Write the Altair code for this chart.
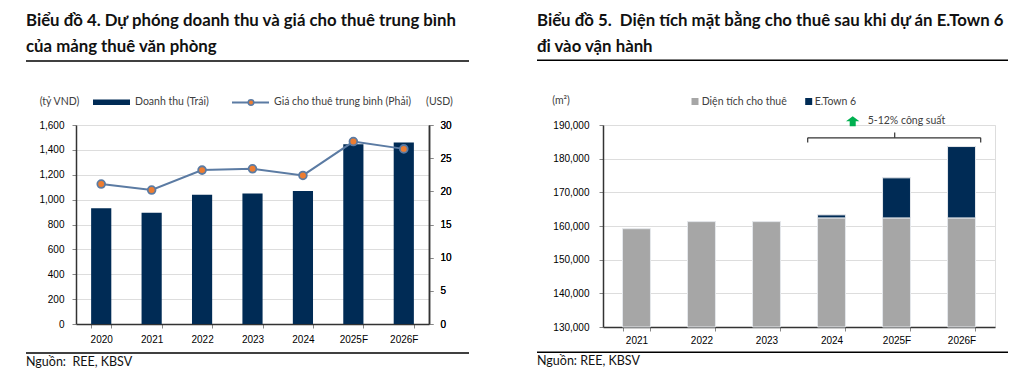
import altair as alt
import pandas as pd

# ---------------- data ----------------
years_l = ["2020", "2021", "2022", "2023", "2024", "2025F", "2026F"]
revenue = [930, 895, 1040, 1050, 1070, 1445, 1460]          # tỷ VND (left axis)
rent_price = [21.1, 20.2, 23.2, 23.4, 22.4, 27.5, 26.4]      # USD (right axis)

years_r = ["2021", "2022", "2023", "2024", "2025F", "2026F"]
area_rent = [159200, 161300, 161300, 162400, 162400, 162400]  # m2
etown6 = [0, 0, 0, 900, 11900, 21200]                          # m2

left_ticks = [0, 200, 400, 600, 800, 1000, 1200, 1400, 1600]
right_ticks = [0, 5, 10, 15, 20, 25, 30]
area_ticks = [130000, 140000, 150000, 160000, 170000, 180000, 190000]

# ---------------- style ----------------
NAVY = "#002B55"
STEEL = "#5B7BA3"
ORANGE = "#ED7D31"
GREY = "#A6A6A6"
GREEN = "#00B050"
FONT = "Lato"
TXT = "#404040"
NB = "\u00a0"

df_l = pd.DataFrame({"year": years_l, "revenue": revenue, "price": rent_price})
df_r = pd.DataFrame({"year": years_r, "area": area_rent, "etown": etown6})
df_r["top"] = df_r["area"] + df_r["etown"]
df_r["base"] = area_ticks[0]
one = pd.DataFrame({"k": [0]})


def txt(s, x, y, align="left", size=10.5, color=TXT, weight="normal"):
    return alt.Chart(one).mark_text(text=s, align=align, baseline="middle", font=FONT,
                                    fontSize=size, color=color, fontWeight=weight).encode(
        x=alt.value(x), y=alt.value(y))


def hline(x1, x2, y, color="#000000", w=1.5):
    return alt.Chart(one).mark_rect(color=color, opacity=1).encode(
        x=alt.value(x1), x2=alt.value(x2), y=alt.value(y - w / 2), y2=alt.value(y + w / 2))


def vline(x, y1, y2, color="#000000", w=1.2):
    return alt.Chart(one).mark_rect(color=color, opacity=1).encode(
        x=alt.value(x - w / 2), x2=alt.value(x + w / 2), y=alt.value(y1), y2=alt.value(y2))


def title(lines):
    return alt.TitleParams(text=lines, anchor="start", frame="bounds", font=FONT, fontSize=16.8,
                           fontWeight="bold", color="#111111", lineHeight=26, offset=4)


AX = dict(tickSize=4, domainWidth=1.5, domainColor="#333333", labelOverlap=False)

# ---------------- left chart ----------------
WL, HL = 353, 199
xl = alt.X("year:N", sort=years_l, title=None,
           scale=alt.Scale(paddingInner=0.6, paddingOuter=0.3),
           axis=alt.Axis(labelAngle=0, tickBand="extent", labelPadding=6, **AX))

bars_l = alt.Chart(df_l).mark_bar(color=NAVY).encode(
    x=xl,
    y=alt.Y("revenue:Q", title=None, scale=alt.Scale(domain=[0, 1600]),
            axis=alt.Axis(values=left_ticks, format=",.0f", labelPadding=8, **AX)))

yp_axis = alt.Axis(orient="right", values=right_ticks, format=".0f", labelPadding=7, **AX)
line_l = alt.Chart(df_l).mark_line(color=STEEL, strokeWidth=2).encode(
    x=alt.X("year:N", sort=years_l),
    y=alt.Y("price:Q", title=None, scale=alt.Scale(domain=[0, 30]), axis=yp_axis))
pts_l = alt.Chart(df_l).mark_circle(color=ORANGE, opacity=1, stroke=STEEL, strokeWidth=1.8,
                                    size=60).encode(
    x=alt.X("year:N", sort=years_l),
    y=alt.Y("price:Q", title=None, scale=alt.Scale(domain=[0, 30]), axis=yp_axis))

leg_l = [
    txt("(tỷ VND)", -16.5, -23, align="center"),
    alt.Chart(one).mark_rect(color=NAVY, opacity=1).encode(
        x=alt.value(17), x2=alt.value(54), y=alt.value(-25.5), y2=alt.value(-20)),
    txt("Doanh thu (Trái)", 59, -23),
    hline(156, 193, -22.5, color=STEEL, w=2),
    alt.Chart(one).mark_circle(color=ORANGE, opacity=1, stroke=STEEL, strokeWidth=1.5,
                               size=30).encode(x=alt.value(175), y=alt.value(-22.5)),
    txt("Giá cho thuê trung bình (Phải)", 198, -23),
    txt("(USD)", 363.5, -23, align="center"),
    hline(-50, 393, -64, w=1.5),
    hline(-50, 393, 228, w=1.5),
    txt("Nguồn:" + NB + NB + "REE, KBSV", -50, 237, size=12.5, color="#111111"),
]

left = alt.layer(bars_l, line_l, pts_l, *leg_l).resolve_scale(y="independent").properties(
    width=WL, height=HL,
    title=title(["Biểu đồ 4. Dự phóng doanh thu và giá cho thuê trung bình",
                 "của mảng thuê văn phòng"]))

# ---------------- right chart ----------------
WR, HR = 392, 202
xr_axis = alt.Axis(labelAngle=0, tickBand="extent", labelPadding=4, **AX)
xr_scale = alt.Scale(paddingInner=0.57, paddingOuter=0.3)
yr_scale = alt.Scale(domain=[area_ticks[0], area_ticks[-1]])
yr_axis = alt.Axis(values=area_ticks, format=",.0f", labelPadding=10, **AX)

grey_bars = alt.Chart(df_r).mark_bar(color=GREY, stroke="#E4E7EB", strokeWidth=1).encode(
    x=alt.X("year:N", sort=years_r, title=None, scale=xr_scale, axis=xr_axis),
    y=alt.Y("area:Q", title=None, scale=yr_scale, axis=yr_axis),
    y2="base:Q")
navy_bars = alt.Chart(df_r).transform_filter("datum.etown > 0").mark_bar(
    color=NAVY, stroke="#E4E7EB", strokeWidth=1).encode(
    x=alt.X("year:N", sort=years_r, title=None, scale=xr_scale, axis=xr_axis),
    y=alt.Y("top:Q", title=None, scale=yr_scale, axis=yr_axis),
    y2="area:Q")

ARROW = "M0,-0.75L1,0L0.45,0L0.45,0.75L-0.45,0.75L-0.45,0L-1,0Z"
ann_r = [
    txt("(m²)", -42, -24, align="center"),
    alt.Chart(one).mark_square(color=GREY, opacity=1, size=49).encode(
        x=alt.value(92), y=alt.value(-23.5)),
    txt("Diện tích cho thuê", 98.7, -23.5),
    alt.Chart(one).mark_square(color=NAVY, opacity=1, size=49).encode(
        x=alt.value(205.7), y=alt.value(-23.5)),
    txt("E.Town 6", 211.7, -23.5),
    # bracket + capacity note
    hline(204.7, 377.7, 12.8, color="#333333", w=1.2),
    vline(204.7, 12.8, 17.5, color="#333333"),
    vline(377.7, 12.8, 17.5, color="#333333"),
    vline(291.7, 7.5, 12.8, color="#333333"),
    alt.Chart(one).mark_point(shape=ARROW, filled=True, color=GREEN, opacity=1, size=180).encode(
        x=alt.value(249.7), y=alt.value(-3.7)),
    txt("5-12% công suất", 264.7, -4.5),
    hline(-66, 405, -64.7, w=1.5),
    hline(-66, 405, 227.3, w=1.5),
    txt("Nguồn: REE, KBSV", -66, 236.3, size=12.5, color="#111111"),
]

right = alt.layer(grey_bars, navy_bars, *ann_r).properties(
    width=WR, height=HR,
    title=title(["Biểu đồ 5." + NB + " Diện tích mặt bằng cho thuê sau khi dự án E.Town 6",
                 "đi vào vận hành"]))

chart = alt.hconcat(left, right, spacing=66).properties(
    padding={"left": 17, "top": 4, "right": 5, "bottom": 5}
).configure_view(stroke=None).configure_axis(
    grid=False, labelFont=FONT, labelFontSize=11, labelColor="#595959",
    tickColor="#333333", titleFont=FONT
).configure(background="white")

chart.save("out.html", embed_options={"renderer": "svg", "actions": False})
